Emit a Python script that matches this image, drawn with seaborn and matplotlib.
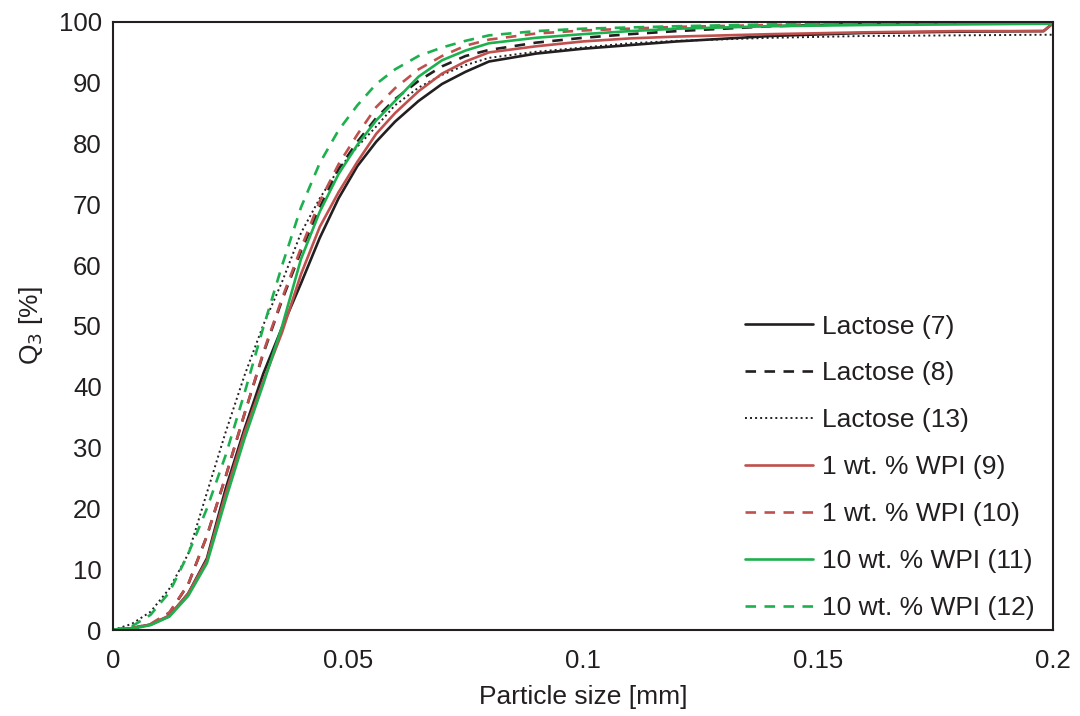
import numpy as np
import pandas as pd
import matplotlib
matplotlib.use("Agg")
import matplotlib.pyplot as plt
import seaborn as sns

# Particle size grid [mm]
size_mm = [0, 0.004, 0.008, 0.012, 0.016, 0.02, 0.024, 0.028, 0.032, 0.036, 0.04,
           0.044, 0.048, 0.052, 0.056, 0.06, 0.065, 0.07, 0.075, 0.08, 0.09, 0.1,
           0.11, 0.12, 0.14, 0.16, 0.18, 0.198, 0.2]

# Cumulative distributions Q3 [%]
lactose_7 = [0, 0.3, 0.9, 2.3, 6.0, 11.8, 23.3, 33.1, 42.2, 49.8, 57.0,
             64.5, 71.0, 76.3, 80.3, 83.6, 87.0, 89.8, 91.8, 93.5, 94.8, 95.6,
             96.2, 96.8, 97.7, 98.2, 98.4, 98.5, 99.8]
lactose_8 = [0, 0.3, 0.9, 2.8, 7.5, 15.5, 25.3, 35.6, 45.5, 54.3, 62.3,
             69.5, 75.8, 80.3, 84.2, 87.3, 90.3, 92.7, 94.4, 95.4, 96.6, 97.4,
             98.0, 98.5, 99.3, 99.7, 99.8, 99.8, 99.8]
lactose_13 = [0, 1.0, 3.0, 6.8, 12.5, 22.6, 32.6, 41.9, 50.2, 57.3, 65.3,
              71.0, 75.8, 79.5, 82.8, 86.3, 89.2, 91.3, 92.9, 94.1, 95.1, 95.8,
              96.5, 96.9, 97.4, 97.7, 97.8, 97.9, 97.9]
wpi1_9 = [0, 0.3, 0.9, 2.4, 6.0, 11.5, 22.5, 32.5, 41.0, 49.0, 58.5,
          66.3, 72.0, 77.0, 81.6, 85.0, 88.6, 91.5, 93.5, 95.0, 96.0, 96.8,
          97.3, 97.6, 98.0, 98.3, 98.5, 98.5, 99.8]
wpi1_10 = [0, 0.3, 1.0, 2.9, 7.5, 15.5, 25.3, 35.6, 45.7, 54.6, 62.8,
           70.5, 76.6, 81.5, 86.0, 89.1, 92.2, 94.4, 96.1, 97.1, 98.1, 98.6,
           98.9, 99.2, 99.5, 99.7, 99.8, 99.8, 99.8]
wpi10_11 = [0, 0.2, 0.8, 2.2, 5.6, 11.0, 21.5, 31.5, 40.5, 50.0, 61.0,
            68.8, 75.0, 79.8, 83.8, 87.0, 91.0, 93.7, 95.3, 96.5, 97.4, 98.0,
            98.5, 98.9, 99.3, 99.5, 99.6, 99.7, 99.7]
wpi10_12 = [0, 0.6, 2.5, 6.2, 12.5, 20.0, 28.8, 39.0, 49.8, 60.0, 69.5,
            76.8, 82.2, 86.3, 89.8, 92.2, 94.4, 95.8, 96.9, 97.8, 98.5, 98.9,
            99.1, 99.3, 99.6, 99.7, 99.8, 99.8, 99.8]

labels = ["Lactose (7)", "Lactose (8)", "Lactose (13)", "1 wt. % WPI (9)",
          "1 wt. % WPI (10)", "10 wt. % WPI (11)", "10 wt. % WPI (12)"]
series = [lactose_7, lactose_8, lactose_13, wpi1_9, wpi1_10, wpi10_11, wpi10_12]

x_ticks = [0, 0.05, 0.1, 0.15, 0.2]
x_tick_labels = ["0", "0.05", "0.1", "0.15", "0.2"]
y_ticks = list(range(0, 101, 10))

BLACK = "#231f20"
RED = "#c0504d"
GREEN = "#1db04f"
DASH = (0, (4, 3.2))
DOT = (0, (1, 1.6))
styles = [
    (BLACK, "-", 1.9),
    (BLACK, DASH, 1.9),
    (BLACK, DOT, 1.4),
    (RED, "-", 1.9),
    (RED, DASH, 1.9),
    (GREEN, "-", 1.9),
    (GREEN, DASH, 1.9),
]

sns.set_style("white")
plt.rcParams["font.family"] = ["Liberation Sans", "DejaVu Sans"]

fig = plt.figure(figsize=(10.8, 7.16), dpi=100)
ax = fig.add_axes([0.1046, 0.1201, 0.8704, 0.8492])

for lab, vals, (c, ls, lw) in zip(labels, series, styles):
    df = pd.DataFrame({"size": size_mm, "q3": vals})
    sns.lineplot(data=df, x="size", y="q3", ax=ax, color=c, linestyle=ls,
                 linewidth=lw, label=lab, sort=False)

ax.set_xlim(0, 0.2)
ax.set_ylim(0, 100)
ax.set_xticks(x_ticks)
ax.set_xticklabels(x_tick_labels)
ax.set_yticks(y_ticks)
ax.tick_params(direction="in", length=6, width=1.2, labelsize=18.5, colors="#231f20")
ax.tick_params(axis="y", pad=8)
ax.tick_params(axis="x", pad=14)
for s in ax.spines.values():
    s.set_visible(True)
    s.set_color("#231f20")
    s.set_linewidth(1.5)

ax.set_xlabel("Particle size [mm]", fontsize=19, color="#231f20", labelpad=8)
ax.set_ylabel("Q$_3$ [%]", fontsize=19, color="#231f20", labelpad=10)

leg = ax.legend(loc="lower left", bbox_to_anchor=(0.672, 0.016), frameon=False,
                fontsize=19, handlelength=2.6, handletextpad=0.34,
                labelspacing=0.87, borderpad=0, borderaxespad=0)
for t in leg.get_texts():
    t.set_color("#231f20")

fig.savefig("out.png", dpi=100)
